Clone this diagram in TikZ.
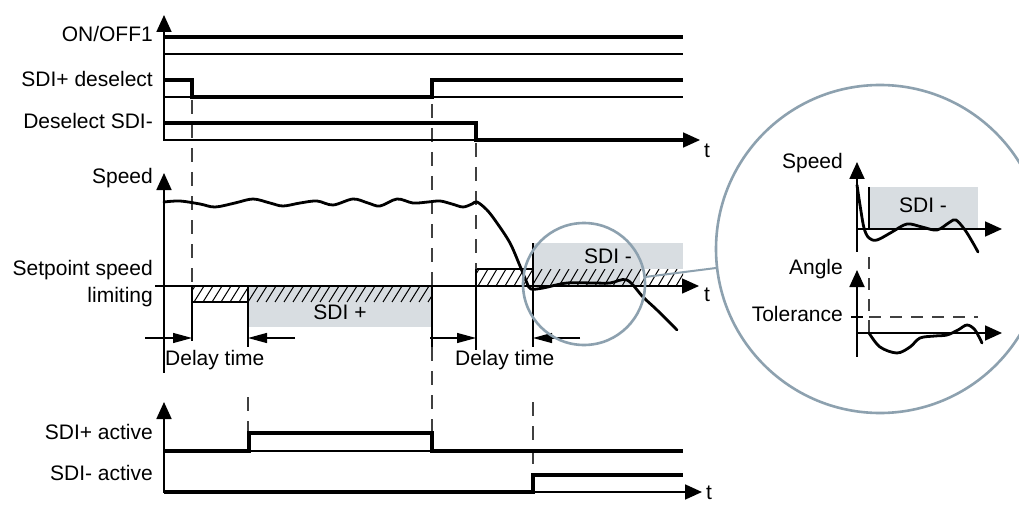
\documentclass[tikz,border=0pt]{standalone}
\usepackage{fontspec}
\setmainfont{Liberation Sans}
\usepackage{xcolor}
\usepackage{tikz}
\usetikzlibrary{arrows.meta}
\definecolor{sdigray}{HTML}{D8DDE1}
\definecolor{lensblue}{HTML}{8DA1AF}

\tikzset{
  lbl/.style={font=\fontsize{21}{25}\selectfont, inner sep=0pt},
  sig/.style={line width=3.5pt},
  refline/.style={line width=1.2pt},
  axisline/.style={line width=1.8pt, {Triangle[length=17pt,width=15pt]}-{Triangle[length=17pt,width=15pt]}},
  guide/.style={line width=1.2pt, black!75, dash pattern=on 14pt off 10pt},
  delayarrow/.style={line width=1.2pt, -{Triangle[length=19pt,width=10pt]}},
  curve/.style={line width=2.8pt, line cap=round},
  lens/.style={line width=2.6pt, lensblue},
}

% hatched band: x1, y1 (top), x2, y2 (bottom)
\newcommand{\hatchband}[4]{%
  \begin{scope}
    \clip (#1,#2) rectangle (#3,#4);
    \pgfmathtruncatemacro{\hn}{(#3-#1)/9+3}
    \foreach \k in {0,...,\hn} {
      \draw[line width=1pt] (#1+9*\k-16, #4) -- (#1+9*\k-6, #2);
    }
  \end{scope}}

\begin{document}
\begin{tikzpicture}[x=1pt, y=-1pt]
    \useasboundingbox (0,0) rectangle (1019,505);
    \fill[white] (0,0) rectangle (1019,505);

    \def\xa{164}
    \def\xe{683}

    % Boxes under the setpoint line
    \fill[sdigray] (248,286) rectangle (432,327);
    \fill[sdigray] (533,243) rectangle (\xe,269);
    \fill[sdigray] (533,269) rectangle (640,286);
    \hatchband{192}{286}{432}{302}
    \hatchband{476}{269}{\xe}{286}
    \draw[refline] (192,286) -- (192,302) -- (248,302);
    \draw[refline] (476,286) -- (476,269) -- (533,269);
    \node[lbl, anchor=base] (sdiplus) at (340,319) {SDI +};
    \node[lbl, anchor=base] (sdiminus) at (608,263) {SDI -};

    % Guide lines
    \draw[guide] (192,100) -- (192,286);
    \draw[guide] (432,104) -- (432,286);
    \draw[guide] (476,143) -- (476,269);
    \draw[guide] (432,347) -- (432,451);
    \draw[guide] (248,397) -- (248,433);
    \draw[guide] (533,402) -- (533,475);
    \draw[refline] (192,286) -- (192,341);
    \draw[refline] (248,286) -- (248,347);
    \draw[refline] (432,286) -- (432,347);
    \draw[refline] (476,269) -- (476,350);
    \draw[refline] (533,243) -- (533,347);

    % ON/OFF1, SDI+ deselect, Deselect SDI-
    \draw[axisline] (\xa,15) -- (\xa,140) -- (700,140);
    \draw[refline] (\xa,54) -- (\xe,54);
    \draw[refline] (\xa,97) -- (\xe,97);
    \draw[sig] (\xa,37) -- (\xe,37);
    \draw[sig] (\xa,80) -- (192,80) -- (192,97) -- (432,97) -- (432,80) -- (\xe,80);
    \draw[sig] (\xa,123) -- (476,123) -- (476,140) -- (686,140);
    \node[lbl, anchor=base east] (onoff) at (153,42) {ON/OFF1};
    \node[lbl, anchor=base east] (desplus) at (153,87) {SDI+ deselect};
    \node[lbl, anchor=base east] (desminus) at (153,129) {Deselect SDI-};
    \node[lbl, anchor=base west] (ttop) at (704,158) {t};

    % Speed
    \draw[axisline, {Triangle[length=17pt,width=15pt]}-] (\xa,173) -- (\xa,373);
    \draw[line width=1.5pt, -{Triangle[length=17pt,width=15pt]}] (155,286) -- (699,286);
    \draw[curve] plot[smooth, tension=0.55] coordinates {
      (164,202) (180,201) (200,204) (215,207) (235,203) (253,199) (270,203)
      (283,206) (300,203) (317,201) (333,205) (353,199) (368,203) (380,206)
      (397,199) (413,203) (428,202) (440,201) (452,204) (463,207) (472,204)
      (477,202) (487,210) (497,223) (510,243) (520,266) (527,283) (531,289)
      (543,288) (567,283) (593,283) (610,283) (627,280) (643,297) (657,310)
      (677,330)};
    \node[lbl, anchor=base east] (speed) at (153,183) {Speed};
    \node[lbl, anchor=base east] (setpoint) at (153,275) {Setpoint speed};
    \node[lbl, anchor=base east] (limiting) at (153,302) {limiting};
    \node[lbl, anchor=base west] (tmid) at (704,301) {t};

    % Delay times
    \draw[delayarrow] (145,338) -- (192,338);
    \draw[delayarrow] (295,338) -- (248,338);
    \draw[delayarrow] (430,338) -- (476,338);
    \draw[delayarrow] (580,338) -- (533,338);
    \node[lbl, anchor=base west] (delayone) at (165,365) {Delay time};
    \node[lbl, anchor=base west] (delaytwo) at (455,365) {Delay time};

    % SDI+ active, SDI- active
    \draw[axisline] (\xa,402) -- (\xa,492) -- (702,492);
    \draw[refline] (249,451) -- (\xe,451);
    \draw[sig] (\xa,451) -- (249,451) -- (249,433) -- (432,433) -- (432,451) -- (\xe,451);
    \draw[sig] (\xa,492) -- (533,492) -- (533,475) -- (\xe,475);
    \node[lbl, anchor=base east] (plusact) at (153,439) {SDI+ active};
    \node[lbl, anchor=base east] (minusact) at (153,480) {SDI- active};
    \node[lbl, anchor=base west] (tbot) at (706,499) {t};

    % Magnifier
    \draw[lens] (584,284) circle (61);
    \draw[lens, line width=2pt] (645,277) -- (716,268);
    \draw[lens, fill=white] (880,249) circle (164);

    % Zoomed speed
    \fill[sdigray] (869,187) rectangle (978,229);
    \draw[line width=1.5pt] (869,187) -- (869,229);
    \draw[axisline] (857,162) -- (857,229) -- (1002,229);
    \draw[refline] (857,229) -- (857,252);
    \draw[curve] plot[smooth, tension=0.55] coordinates {
      (857,185) (860,205) (864,228) (869,238) (877,240) (892,232) (907,224)
      (922,227) (937,230) (950,222) (956,220) (965,230) (973,243) (978,252)};
    \node[lbl, anchor=base] (zsdi) at (923,212) {SDI -};
    \node[lbl, anchor=base east] (zspeed) at (843,168) {Speed};

    % Zoomed angle
    \draw[guide, dash pattern=on 12pt off 9pt] (869,257) -- (869,333);
    \draw[axisline] (857,270) -- (857,333) -- (1002,333);
    \draw[refline] (857,333) -- (857,357);
    \draw[refline] (851,317) -- (863,317);
    \draw[guide, dash pattern=on 12pt off 9pt] (869,317) -- (978,317);
    \draw[curve] plot[smooth, tension=0.55] coordinates {
      (869,333) (880,347) (897,353) (910,347) (920,338) (935,336) (947,335)
      (958,330) (967,325) (975,330) (982,343)};
    \node[lbl, anchor=base east] (zangle) at (843,274) {Angle};
    \node[lbl, anchor=base east] (ztol) at (843,321) {Tolerance};
\end{tikzpicture}
\end{document}
